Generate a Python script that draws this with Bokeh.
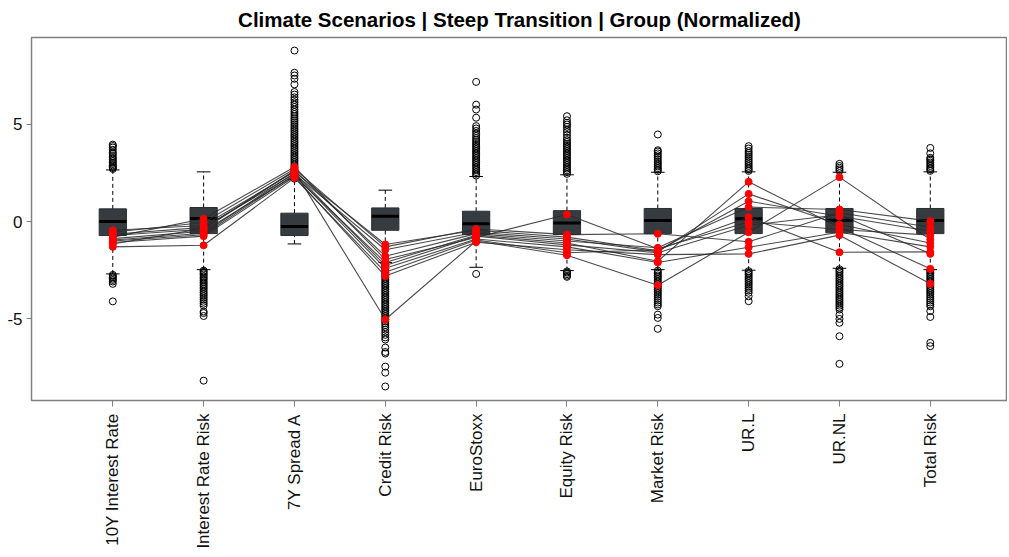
import math
from bokeh.plotting import figure
from bokeh.models import FixedTicker, Range1d
from bokeh.embed import file_html
from bokeh.resources import INLINE

categories = ["10Y Interest Rate", "Interest Rate Risk", "7Y Spread A", "Credit Risk",
              "EuroStoxx", "Equity Risk", "Market Risk", "UR.L", "UR.NL", "Total Risk"]

# box statistics (normalized)
q1 = [-0.72, -0.62, -0.72, -0.45, -0.67, -0.67, -0.62, -0.62, -0.58, -0.62]
median = [0.00, 0.15, -0.26, 0.27, -0.12, -0.07, 0.05, 0.14, 0.07, 0.05]
q3 = [0.65, 0.72, 0.43, 0.70, 0.53, 0.56, 0.67, 0.67, 0.67, 0.67]
whisker_lo = [-2.69, -2.47, -1.15, -2.10, -2.35, -2.52, -2.47, -2.50, -2.40, -2.47]
whisker_hi = [2.65, 2.55, 2.15, 1.61, 2.31, 2.40, 2.53, 2.55, 2.53, 2.55]

# outliers per category
out_10y = [2.70, 2.76, 2.81, 2.88, 2.95, 3.02, 3.10, 3.18, 3.27, 3.36, 3.47, 3.55, 3.68, 3.80, 3.88, 3.95,
           -2.74, -2.80, -2.86, -2.93, -3.00, -3.08, -3.20, -4.10]
out_irr = [-2.52, -2.58, -2.65, -2.72, -2.80, -2.88, -2.95, -3.03, -3.12, -3.20, -3.28, -3.37, -3.45,
           -3.55, -3.64, -3.73, -3.82, -3.92, -4.02, -4.12, -4.22, -4.32, -4.62, -4.70, -4.85, -8.17]
out_7y = [2.20, 2.28, 2.36, 2.45, 2.53, 2.62, 2.70, 2.79, 2.88, 2.97, 3.06, 3.15, 3.24, 3.33, 3.42, 3.51,
          3.60, 3.70, 3.79, 3.88, 3.97, 4.06, 4.15, 4.25, 4.34, 4.43, 4.52, 4.62, 4.71, 4.80, 4.90, 5.00,
          5.10, 5.20, 5.30, 5.41, 5.52, 5.63, 5.75, 5.88, 6.00, 6.12, 6.25, 6.38, 6.52, 6.65, 7.04, 7.33,
          7.50, 7.64, 8.78]
out_credit = [-2.15, -2.24, -2.33, -2.42, -2.51, -2.60, -2.69, -2.78, -2.87, -2.96, -3.05, -3.14, -3.23,
              -3.32, -3.41, -3.50, -3.59, -3.68, -3.77, -3.86, -3.95, -4.04, -4.13, -4.22, -4.31, -4.40,
              -4.49, -4.58, -4.67, -4.76, -4.85, -4.94, -5.03, -5.12, -5.22, -5.32, -5.43, -5.55, -5.68,
              -5.82, -5.95, -6.06, -6.47, -6.70, -6.78, -7.45, -7.76, -8.47]
out_euro = [2.36, 2.45, 2.54, 2.63, 2.72, 2.81, 2.90, 2.99, 3.08, 3.17, 3.26, 3.35, 3.44, 3.53, 3.62,
            3.71, 3.80, 3.89, 3.98, 4.08, 4.18, 4.28, 4.40, 4.52, 4.65, 4.78, 4.90, 5.33, 5.75, 6.00,
            7.17, -2.69]
out_equity = [2.45, 2.54, 2.63, 2.72, 2.81, 2.90, 2.99, 3.08, 3.17, 3.26, 3.35, 3.44, 3.53, 3.62, 3.71,
              3.80, 3.89, 3.98, 4.08, 4.18, 4.30, 4.45, 4.60, 4.72, 4.86, 4.98, 5.07, 5.20, 5.41,
              -2.56, -2.62, -2.70, -2.78, -2.84]
out_market = [2.58, 2.66, 2.74, 2.83, 2.92, 3.01, 3.10, 3.20, 3.30, 3.40, 3.50, 3.60, 3.66, 4.47,
              -2.52, -2.60, -2.68, -2.77, -2.86, -2.95, -3.04, -3.13, -3.22, -3.31, -3.40, -3.49, -3.58,
              -3.67, -3.76, -3.86, -3.96, -4.06, -4.16, -4.26, -4.35, -4.78, -4.95, -5.51]
out_url = [2.60, 2.68, 2.76, 2.85, 2.94, 3.03, 3.12, 3.22, 3.32, 3.42, 3.52, 3.62, 3.75, 3.87,
           -2.55, -2.63, -2.71, -2.80, -2.89, -2.98, -3.07, -3.16, -3.25, -3.35, -3.45, -3.55, -3.66,
           -3.84, -4.09]
out_urnl = [2.60, 2.68, 2.76, 2.85, 2.96,
            -2.45, -2.53, -2.61, -2.70, -2.79, -2.88, -2.97, -3.06, -3.15, -3.24, -3.33, -3.42, -3.51,
            -3.60, -3.69, -3.78, -3.87, -3.96, -4.05, -4.14, -4.23, -4.32, -4.42, -4.52, -4.80, -5.00,
            -5.20, -5.89, -7.31]
out_total = [2.60, 2.68, 2.76, 2.85, 2.94, 3.03, 3.12, 3.20, 3.27, 3.50, 3.78,
             -2.52, -2.60, -2.68, -2.77, -2.86, -2.95, -3.04, -3.13, -3.22, -3.31, -3.40, -3.49, -3.58,
             -3.67, -3.76, -3.86, -3.96, -4.06, -4.16, -4.26, -4.35, -4.60, -4.90, -6.23, -6.40]
outliers = [out_10y, out_irr, out_7y, out_credit, out_euro, out_equity, out_market, out_url, out_urnl, out_total]

# climate scenarios (red points joined by lines)
sc1 = [-0.45, -0.20, 2.55, -1.18, -0.45, -0.80, -1.50, 1.04, 0.27, -0.50]
sc2 = [-0.55, -0.05, 2.70, -1.30, -0.38, -0.67, -0.63, -1.04, 0.45, -0.29]
sc3 = [-0.65, -0.30, 2.45, -1.45, -0.55, -0.90, -1.56, 1.42, -0.15, -1.10]
sc4 = [-0.72, -0.40, 2.62, -1.78, -0.62, -1.00, -1.35, 0.74, 0.62, 0.02]
sc5 = [-0.80, 0.14, 2.80, -1.95, -0.82, 0.36, -1.40, -0.02, -0.41, -0.70]
sc6 = [-0.88, -0.50, 2.35, -2.10, -0.70, -1.10, -2.04, 2.04, -0.30, -2.43]
sc7 = [-0.95, -0.60, 2.50, -2.26, -0.75, -1.20, -1.60, -0.19, 0.35, -1.66]
sc8 = [-1.00, -0.68, 2.40, -2.40, -0.90, -1.30, -2.10, -1.32, -0.55, -1.30]
sc9 = [-1.08, -0.75, 2.30, -2.80, -1.06, -1.45, -1.70, -1.66, -0.70, -3.20]
sc10 = [-1.15, -0.35, 2.60, -5.03, -1.00, -1.73, -3.27, -0.55, 2.28, -0.92]
sc11 = [-1.30, -1.22, 2.24, -2.60, -0.95, -1.60, -1.45, 0.22, -1.58, -1.56]
scenarios = [sc1, sc2, sc3, sc4, sc5, sc6, sc7, sc8, sc9, sc10, sc11]

xs = [i + 1 for i in range(len(categories))]
half = 0.15
cap = 0.075

p = figure(width=1007, height=556, x_range=Range1d(0.105, 10.85), y_range=Range1d(-9.19, 9.45),
           output_backend="svg", toolbar_location=None,
           min_border_left=31, min_border_right=0, min_border_top=37, min_border_bottom=156)

p.title.text = "Climate Scenarios | Steep Transition | Group (Normalized)"
p.title.align = "center"
p.title.vertical_align = "top"
p.title.text_font = "Liberation Sans"
p.title.text_font_size = "20.5px"
p.title.text_font_style = "bold"
p.title.text_color = "black"
p.title.standoff = 10

p.grid.visible = False
p.outline_line_color = "#808080"
p.outline_line_width = 1.5
p.background_fill_color = "white"
p.border_fill_color = "white"

# whiskers
p.segment(xs, q3, xs, whisker_hi, line_color="black", line_width=1, line_dash="4 3")
p.segment(xs, whisker_lo, xs, q1, line_color="black", line_width=1, line_dash="4 3")
p.segment([x - cap for x in xs], whisker_hi, [x + cap for x in xs], whisker_hi, line_color="black", line_width=1)
p.segment([x - cap for x in xs], whisker_lo, [x + cap for x in xs], whisker_lo, line_color="black", line_width=1)

# boxes
p.quad(left=[x - half for x in xs], right=[x + half for x in xs], bottom=q1, top=q3,
       fill_color="#363b40", line_color="#2b2f33", line_width=1)
p.segment([x - half for x in xs], median, [x + half for x in xs], median, line_color="black", line_width=3)

# outliers
ox, oy = [], []
for x, vals in zip(xs, outliers):
    ox += [x] * len(vals)
    oy += vals
p.scatter(ox, oy, marker="circle", size=7, fill_color=None, line_color="black", line_width=1)

# scenario lines
for sc in scenarios:
    p.line(xs, sc, line_color="#2a2a2a", line_width=1.1, line_alpha=0.85)
for sc in scenarios:
    p.scatter(xs, sc, marker="circle", size=7, fill_color="red", line_color="red")

# axes
p.xaxis.ticker = FixedTicker(ticks=xs)
p.xaxis.major_label_overrides = {x: c for x, c in zip(xs, categories)}
p.xaxis.major_label_orientation = math.pi / 2
p.xaxis.major_label_text_font = "Liberation Sans"
p.xaxis.major_label_text_font_size = "17px"
p.xaxis.major_label_text_color = "#111111"
p.xaxis.major_label_standoff = 7
p.xaxis.axis_line_color = None
p.xaxis.major_tick_line_color = "#808080"
p.xaxis.major_tick_out = 6
p.xaxis.major_tick_in = 0
p.xaxis.minor_tick_line_color = None

p.yaxis.ticker = FixedTicker(ticks=[-5, 0, 5])
p.yaxis.major_label_overrides = {-5: "-5", 0: "0", 5: "5"}
p.yaxis.major_label_text_font = "Liberation Sans"
p.yaxis.major_label_text_font_size = "17px"
p.yaxis.major_label_text_color = "#111111"
p.yaxis.major_label_standoff = 4
p.yaxis.axis_line_color = None
p.yaxis.major_tick_line_color = "#808080"
p.yaxis.major_tick_out = 5
p.yaxis.major_tick_in = 0
p.yaxis.minor_tick_line_color = None

open("out.html", "w").write(file_html(p, INLINE))
